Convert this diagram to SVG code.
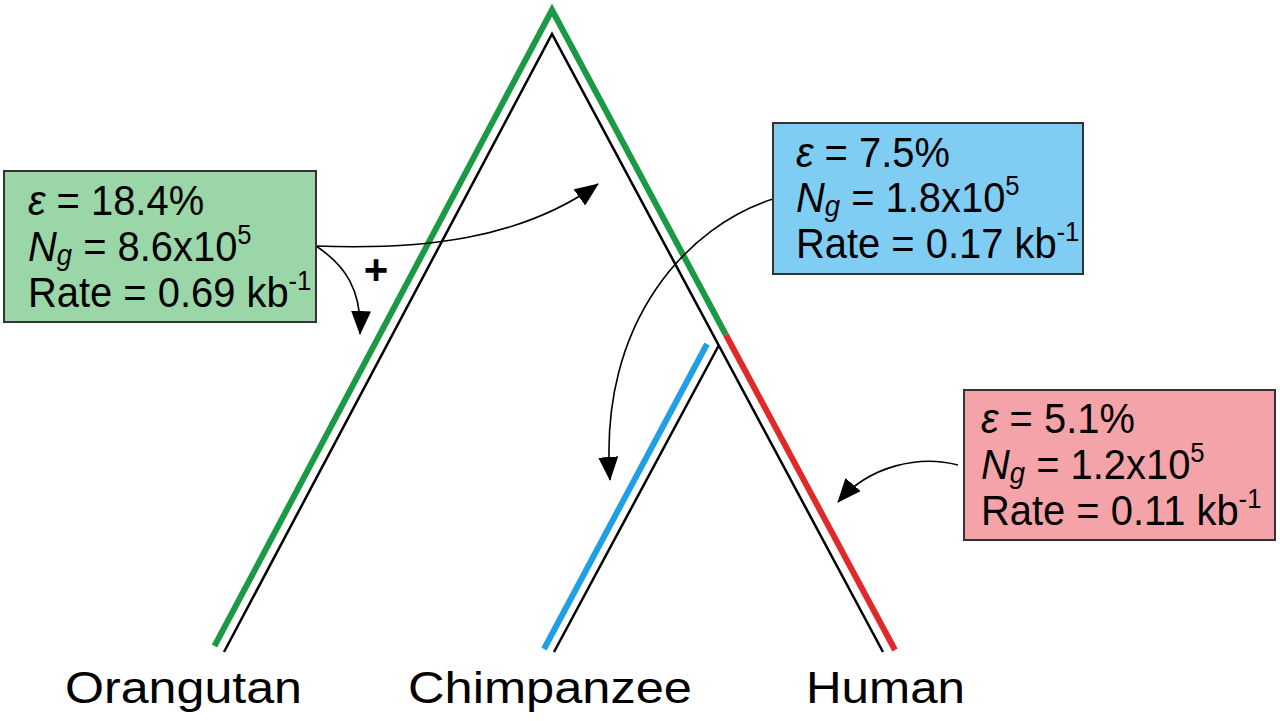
<svg xmlns="http://www.w3.org/2000/svg" width="1280" height="721" viewBox="0 0 1280 721">
<style>
.box{stroke:#333;stroke-width:2}
.t{font-family:"Liberation Sans",Arial,sans-serif;font-size:42px;fill:#000}
.lbl{font-family:"Liberation Sans",Arial,sans-serif;font-size:44px;fill:#000}
.it{font-style:italic}
.conn{fill:none;stroke:#000;stroke-width:1.6}
.tree{fill:none;stroke-linecap:butt;stroke-linejoin:miter}
</style>
<defs>
<marker id="ah" markerUnits="userSpaceOnUse" markerWidth="24" markerHeight="20" viewBox="0 0 24 20" refX="23" refY="10" orient="auto">
<path d="M0,0 L24,10 L0,20 z" fill="#000"/>
</marker>
</defs>
<rect width="1280" height="721" fill="#fff"/>
<g id="tree">
<path class="tree" d="M214.5,646 L552,10 L726,335" stroke="#1a9a44" stroke-width="6"/>
<path class="tree" d="M726,335 L895,650" stroke="#e02a2a" stroke-width="6"/>
<path class="tree" d="M707,344 L544,649" stroke="#1e9fe6" stroke-width="6"/>
<path class="tree" d="M224,652 L552,34 L883,652" stroke="#000" stroke-width="2.5"/>
<path class="tree" d="M719,345 L554,652" stroke="#000" stroke-width="2.5"/>
</g>
<g id="connectors">
<path class="conn" d="M316,246 C420,250 520,240 598,184" marker-end="url(#ah)"/>
<path class="conn" d="M316,246 C345,265 362,290 360,334" marker-end="url(#ah)"/>
<path class="conn" d="M773,199 C690,225 598,320 610,480" marker-end="url(#ah)"/>
<path class="conn" d="M958,465 C920,455 870,465 838,502" marker-end="url(#ah)"/>
<text x="376" y="284" text-anchor="middle" style="font-family:'Liberation Sans',Arial,sans-serif;font-size:42px;font-weight:bold">+</text>
</g>
<g id="box-orangutan">
<rect class="box" x="4" y="171" width="312" height="151" fill="#9ad6a8"/>
<text class="t" transform="translate(28,215) scale(0.95,1)"><tspan class="it">ε</tspan> = 18.4%</text>
<text class="t" transform="translate(28,261) scale(0.95,1)"><tspan class="it">N</tspan><tspan class="it" font-size="29" dy="4">g</tspan><tspan dy="-4"> = 8.6x10</tspan><tspan font-size="27" dy="-17">5</tspan></text>
<text class="t" transform="translate(28,307) scale(0.95,1)">Rate = 0.69 kb<tspan font-size="27" dy="-17">-1</tspan></text>
</g>
<g id="box-chimp">
<rect class="box" x="773" y="123" width="310" height="151" fill="#80cdf3"/>
<text class="t" transform="translate(796,167) scale(0.95,1)"><tspan class="it">ε</tspan> = 7.5%</text>
<text class="t" transform="translate(796,212) scale(0.95,1)"><tspan class="it">N</tspan><tspan class="it" font-size="29" dy="4">g</tspan><tspan dy="-4"> = 1.8x10</tspan><tspan font-size="27" dy="-17">5</tspan></text>
<text class="t" transform="translate(796,258) scale(0.95,1)">Rate = 0.17 kb<tspan font-size="27" dy="-17">-1</tspan></text>
</g>
<g id="box-human">
<rect class="box" x="964" y="390" width="311" height="150" fill="#f4a3a9"/>
<text class="t" transform="translate(981,433) scale(0.95,1)"><tspan class="it">ε</tspan> = 5.1%</text>
<text class="t" transform="translate(981,479) scale(0.95,1)"><tspan class="it">N</tspan><tspan class="it" font-size="29" dy="4">g</tspan><tspan dy="-4"> = 1.2x10</tspan><tspan font-size="27" dy="-17">5</tspan></text>
<text class="t" transform="translate(981,525) scale(0.95,1)">Rate = 0.11 kb<tspan font-size="27" dy="-17">-1</tspan></text>
</g>
<g id="label-orangutan"><text class="lbl" x="65" y="703" textLength="237" lengthAdjust="spacingAndGlyphs">Orangutan</text></g>
<g id="label-chimpanzee"><text class="lbl" x="408" y="703" textLength="284" lengthAdjust="spacingAndGlyphs">Chimpanzee</text></g>
<g id="label-human"><text class="lbl" x="806" y="703" textLength="159" lengthAdjust="spacingAndGlyphs">Human</text></g>
</svg>
